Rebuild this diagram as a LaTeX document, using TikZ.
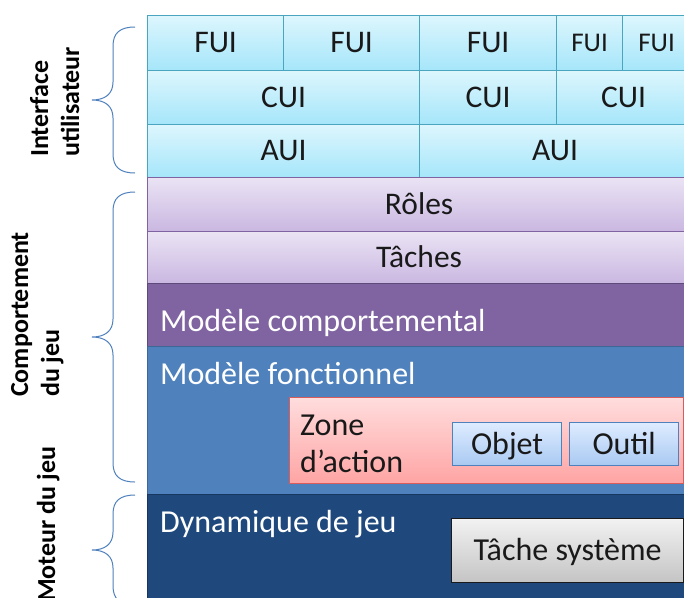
\documentclass[tikz,border=0pt]{standalone}
\usepackage{fontspec}
\setmainfont{Carlito}
\definecolor{uitop}{HTML}{DDF6FD}
\definecolor{uibot}{HTML}{A5E6FA}
\definecolor{uiedge}{HTML}{4AA6BF}
\definecolor{pltop}{HTML}{EAE3F4}
\definecolor{plbot}{HTML}{CAB7E1}
\definecolor{pledge}{HTML}{8064A2}
\definecolor{mcfill}{HTML}{8064A2}
\definecolor{mcedge}{HTML}{5E4A7A}
\definecolor{mffill}{HTML}{4F81BD}
\definecolor{mfedge}{HTML}{3C6796}
\definecolor{djfill}{HTML}{1F497D}
\definecolor{djedge}{HTML}{17375E}
\definecolor{zntop}{HTML}{FFDDDD}
\definecolor{znbot}{HTML}{FFA4A4}
\definecolor{znedge}{HTML}{D85C5C}
\definecolor{obtop}{HTML}{DEECFF}
\definecolor{obbot}{HTML}{A9C9F2}
\definecolor{obedge}{HTML}{4F81BD}
\definecolor{tstop}{HTML}{F2F2F2}
\definecolor{tsbot}{HTML}{C4C4C4}
\definecolor{tsedge}{HTML}{1A1A1A}
\definecolor{bracecol}{HTML}{4F81BD}
\begin{document}
\begin{tikzpicture}[x=1pt,y=-1pt,
  cell/.style={anchor=north west, inner sep=0pt, line width=1.2pt,
    font=\fontsize{31.5}{37}\selectfont, text=black!90, text height=25pt, text depth=6pt},
  uibox/.style={cell, draw=uiedge, top color=uitop, bottom color=uibot},
  smallui/.style={uibox, font=\fontsize{27}{32}\selectfont, text height=23pt},
  plbox/.style={cell, draw=pledge, top color=pltop, bottom color=plbot},
  innerbox/.style={cell, font=\fontsize{32}{38}\selectfont, text height=26pt},
  layertext/.style={anchor=west, inner sep=0pt, text=white, font=\fontsize{32}{38}\selectfont},
  sidelabel/.style={anchor=base west, inner sep=0pt, rotate=90, align=left,
    font=\bfseries\fontsize{26}{31}\selectfont, text=black},
  bracepath/.style={draw=bracecol, line width=1pt}]
\useasboundingbox (0,0) rectangle (684,597);
\clip (0,0) rectangle (684,597);
\fill[white] (0,0) rectangle (684,597);

% user interface rows
\node[uibox, minimum width=136pt, minimum height=55pt] (fui1) at (147,15) {FUI};
\node[uibox, minimum width=136pt, minimum height=55pt] (fui2) at (283,15) {FUI};
\node[uibox, minimum width=137pt, minimum height=55pt] (fui3) at (419,15) {FUI};
\node[smallui, minimum width=66pt, minimum height=55pt] (fui4) at (556,15) {FUI};
\node[smallui, minimum width=68pt, minimum height=55pt] (fui5) at (622,15) {FUI};
\node[uibox, minimum width=272pt, minimum height=54pt] (cui1) at (147,70) {CUI};
\node[uibox, minimum width=137pt, minimum height=54pt] (cui2) at (419,70) {CUI};
\node[uibox, minimum width=134pt, minimum height=54pt] (cui3) at (556,70) {CUI};
\node[uibox, minimum width=272pt, minimum height=53pt] (aui1) at (147,124) {AUI};
\node[uibox, minimum width=271pt, minimum height=53pt] (aui2) at (419,124) {AUI};

% behaviour rows
\node[plbox, minimum width=543pt, minimum height=54pt] (roles) at (147,177) {Rôles};
\node[plbox, minimum width=543pt, minimum height=52pt] (taches) at (147,231) {Tâches};
\node[cell, draw=mcedge, fill=mcfill, minimum width=543pt, minimum height=63pt] (mc) at (147,283) {};
\node[layertext] (mctext) at (160,323) {Modèle comportemental};
\node[cell, draw=mfedge, fill=mffill, minimum width=543pt, minimum height=148pt] (mf) at (147,346) {};
\node[layertext] (mftext) at (160,374) {Modèle fonctionnel};
\node[cell, draw=djedge, fill=djfill, minimum width=543pt, minimum height=110pt] (dj) at (147,494) {};
\node[layertext] (djtext) at (160,524) {Dynamique de jeu};

% inner boxes
\node[cell, draw=znedge, top color=zntop, bottom color=znbot, minimum width=394pt, minimum height=86pt] (zone) at (289,397) {};
\node[anchor=west, inner sep=0pt, align=left, text=black!90, font=\fontsize{32}{37}\selectfont] (zonetext) at (300,444) {Zone\\d’action};
\node[innerbox, draw=obedge, top color=obtop, bottom color=obbot, minimum width=109pt, minimum height=43pt] (objet) at (452,422) {Objet};
\node[innerbox, draw=obedge, top color=obtop, bottom color=obbot, minimum width=109pt, minimum height=43pt] (outil) at (569,422) {Outil};
\node[innerbox, draw=tsedge, top color=tstop, bottom color=tsbot, minimum width=232pt, minimum height=64pt] (tache) at (451,518) {Tâche système};

% braces
\draw[bracepath] (135,27) .. controls (120,27) and (113,33) .. (113,46) -- (113,82)
  .. controls (113,94) and (105,100) .. (92,100)
  .. controls (105,100) and (113,106) .. (113,118) -- (113,154)
  .. controls (113,167) and (120,173) .. (135,173);
\draw[bracepath] (135,192) .. controls (120,192) and (113,198) .. (113,211) -- (113,319)
  .. controls (113,331) and (105,337) .. (92,337)
  .. controls (105,337) and (113,343) .. (113,355) -- (113,463)
  .. controls (113,476) and (120,482) .. (135,482);
\draw[bracepath] (135,495) .. controls (120,495) and (113,501) .. (113,514) -- (113,532)
  .. controls (113,544) and (105,550) .. (92,550)
  .. controls (105,550) and (113,556) .. (113,568) -- (113,586)
  .. controls (113,599) and (120,605) .. (135,605);

% side labels (anchor is on the baseline of the last line)
\node[sidelabel] (labui) at (79,157) {Interface\\utilisateur};
\node[sidelabel] (labcomp) at (59,397) {Comportement\\du jeu};
\node[sidelabel] (labmot) at (55,602) {Moteur du jeu};
\end{tikzpicture}
\end{document}
